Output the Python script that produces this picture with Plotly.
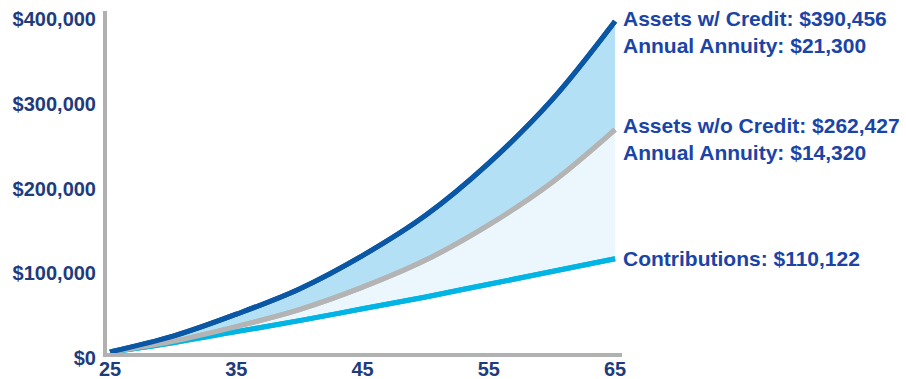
import plotly.graph_objects as go

# ---- data ----
ages = [25, 30, 35, 40, 45, 50, 55, 60, 65]
contributions = [0, 11000, 24000, 37000, 51000, 65000, 80000, 95000, 110122]
assets_without_credit = [0, 12600, 30000, 50000, 76500, 108500, 150000, 200000, 262427]
assets_with_credit = [0, 18700, 44600, 74400, 113800, 161400, 223000, 297600, 390456]

x_ticks = [25, 35, 45, 55, 65]
x_ticktext = ["25", "35", "45", "55", "65"]
y_ticks = [0, 100000, 200000, 300000, 400000]
y_ticktext = ["$0", "$100,000", "$200,000", "$300,000", "$400,000"]

label_with = ["Assets w/ Credit: $390,456", "Annual Annuity: $21,300"]
label_without = ["Assets w/o Credit: $262,427", "Annual Annuity: $14,320"]
label_contrib = ["Contributions: $110,122"]

# ---- styles ----
C_DARK = "#0a57a6"
C_GRAY = "#b4b4b4"
C_CYAN = "#00b5e4"
FILL_TOP = "#b4e0f5"
FILL_LOW = "#ebf6fd"
AXIS = "#b1b1b1"
TICK_COLOR = "#1e3b7c"
ANN_COLOR = "#1a44a6"
FONT = "Liberation Sans, Arial, sans-serif"

fig = go.Figure()
fig.add_trace(go.Scatter(x=ages, y=contributions, mode="lines",
                         line=dict(color=C_CYAN, width=5, shape="spline"),
                         hoverinfo="skip", showlegend=False))
fig.add_trace(go.Scatter(x=ages, y=assets_without_credit, mode="lines",
                         line=dict(color=C_GRAY, width=5, shape="spline"),
                         fill="tonexty", fillcolor=FILL_LOW,
                         hoverinfo="skip", showlegend=False))
fig.add_trace(go.Scatter(x=ages, y=assets_with_credit, mode="lines",
                         line=dict(color=C_DARK, width=5, shape="spline"),
                         fill="tonexty", fillcolor=FILL_TOP,
                         hoverinfo="skip", showlegend=False))
# redraw lines above fills
for ys, col in [(contributions, C_CYAN), (assets_without_credit, C_GRAY), (assets_with_credit, C_DARK)]:
    fig.add_trace(go.Scatter(x=ages, y=ys, mode="lines",
                             line=dict(color=col, width=5, shape="spline"),
                             hoverinfo="skip", showlegend=False))

ann_font = dict(family=FONT, size=21, color=ANN_COLOR, weight="bold")


def add_labels(lines, yval, shifts):
    for txt, sh in zip(lines, shifts):
        fig.add_annotation(x=ages[-1], y=yval, text=txt, showarrow=False,
                           xanchor="left", yanchor="middle", xshift=6, yshift=sh,
                           font=ann_font)


add_labels(label_with, assets_with_credit[-1], [3, -24])
add_labels(label_without, assets_without_credit[-1], [4, -23])
add_labels(label_contrib, contributions[-1], [0])

tick_font = dict(family=FONT, size=20, color=TICK_COLOR, weight="bold")

fig.update_layout(
    width=906, height=379,
    margin=dict(l=107, r=284, t=11, b=26, autoexpand=False),
    paper_bgcolor="white", plot_bgcolor="white",
    xaxis=dict(range=[24.76, 65.55], showgrid=False, zeroline=False,
               showline=True, linecolor=AXIS, linewidth=4,
               tickvals=x_ticks, ticktext=x_ticktext, ticks="",
               tickfont=tick_font, ticklabelstandoff=-5, automargin=False),
    yaxis=dict(range=[-1200, 402578], showgrid=False, zeroline=False,
               showline=True, linecolor=AXIS, linewidth=4,
               tickvals=y_ticks, ticktext=y_ticktext, ticks="",
               tickfont=tick_font, ticklabelstandoff=3, ticklabelshift=6,
               ticklabeloverflow="allow", automargin=False),
)

fig.write_html("out.html")
